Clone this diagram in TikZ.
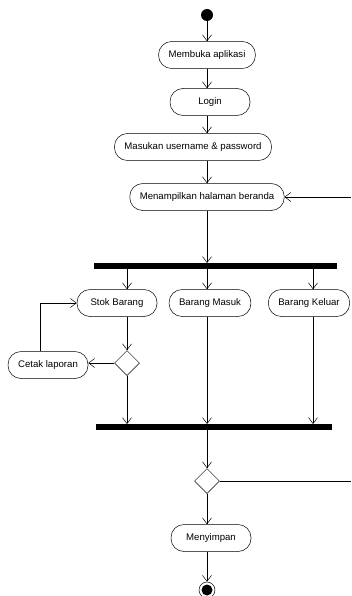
\documentclass[tikz,border=0pt]{standalone}
\usepackage{fontspec}
\setmainfont{Liberation Sans}
\usetikzlibrary{arrows.meta,shapes.geometric}

\tikzset{
  act/.style={draw, rounded corners=13pt, minimum width=80pt, minimum height=27pt,
    inner xsep=10pt, font=\fontsize{9.6}{11}\selectfont},
  bar/.style={fill=black, inner sep=0pt, minimum height=5.5pt},
  choice/.style={draw, fill=white, diamond, inner sep=0pt, minimum width=25pt, minimum height=25pt},
  flow/.style={-{Straight Barb[length=6pt,width=9pt]}},
}

\begin{document}
\begin{tikzpicture}[x=1pt,y=-1pt,line width=0.5pt]
			\useasboundingbox (0,0) rectangle (351,596);
			% nodes
			\node[circle,fill,inner sep=0pt,minimum size=12pt] (start) at (207,15) {};
			\node[act] (buka) at (207,55) {Membuka aplikasi};
			\node[act] (login) at (210,102) {Login};
			\node[act] (user) at (193,147) {Masukan username \& password};
			\node[act] (beranda) at (207,197) {Menampilkan halaman beranda};
			\node[bar,minimum width=243pt] (fork) at (215.5,266) {};
			\node[act] (stok) at (117,303) {Stok Barang};
			\node[act] (masuk) at (210,303) {Barang Masuk};
			\node[act] (keluar) at (309,303) {Barang Keluar};
			\node[choice] (cek) at (127,363) {};
			\node[act] (cetak) at (48,365) {Cetak laporan};
			\node[bar,minimum width=236pt] (join) at (214,427) {};
			\node[choice] (pilih) at (207,481) {};
			\node[act] (simpan) at (211,538) {Menyimpan};
			\node[circle,draw,inner sep=0pt,minimum size=16pt] (stop) at (207,590) {};
			\fill (stop) circle (5.5pt);
			\coordinate (mid) at (207,0);
			\coordinate (kanan) at (313,0);
			\coordinate (tepi) at (351,0);
			% connectors
			\draw[flow] (start) -- (mid |- buka.north);
			\draw[flow] (buka) -- (mid |- login.north);
			\draw[flow] (mid |- login.south) -- (mid |- user.north);
			\draw[flow] (mid |- user.south) -- (beranda);
			\draw[flow] (beranda) -- (mid |- fork.north);
			\draw[flow] (fork.south -| cek) -- (cek |- stok.north);
			\draw[flow] (fork.south -| mid) -- (mid |- masuk.north);
			\draw[flow] (fork.south -| kanan) -- (kanan |- keluar.north);
			\draw[flow] (cek |- stok.south) -- (cek);
			\draw[flow] (cek) -- (cek -| cetak.east);
			\draw[flow] ([xshift=-8pt]cetak.north) |- (stok.west);
			\draw[flow] (cek) -- (cek |- join.north);
			\draw[flow] (mid |- masuk.south) -- (mid |- join.north);
			\draw[flow] (kanan |- keluar.south) -- (kanan |- join.north);
			\draw[flow] (join.south -| mid) -- (pilih);
			\draw (pilih) -- (pilih -| tepi);
			\draw[flow] (tepi |- beranda) -- (beranda);
			\draw[flow] (pilih) -- (mid |- simpan.north);
			\draw[flow] (mid |- simpan.south) -- (stop);
		\end{tikzpicture}
\end{document}
